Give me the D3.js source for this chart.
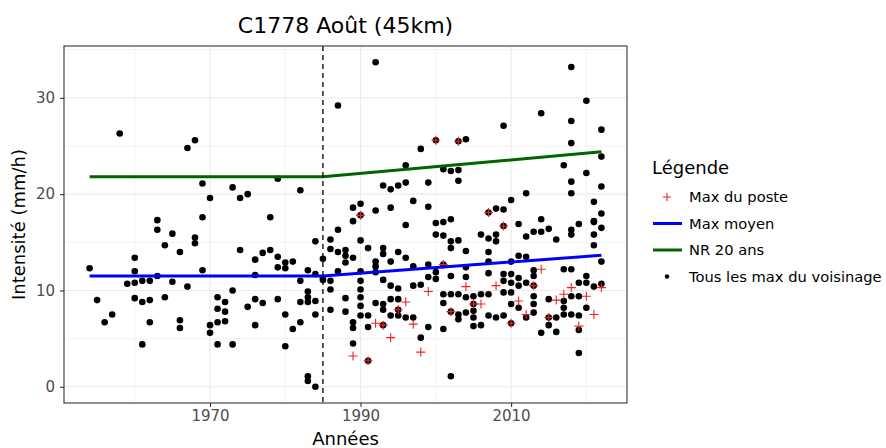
<!DOCTYPE html>
<meta charset="utf-8">
<style>
  body { margin: 0; background: #fff; }
  svg { font-family: 'DejaVu Sans', sans-serif; }
</style>
<script src="https://d3js.org/d3.v7.min.js"></script>
<body>
<svg id="chart" width="886" height="448"></svg>
<script>

// years with neighbourhood maxima, and the values for each year
var years = [1954,1955,1956,1957,1958,1959,1960,1961,1962,1963,1964,1965,1966,1967,1968,1969,
  1970,1971,1972,1973,1974,1975,1976,1977,1978,1979,1980,1981,1982,1983,1984,1985,1986,1987,1988,1989,
  1990,1991,1992,1993,1994,1995,1996,1997,1998,1999,2000,2001,2002,2003,2004,2005,2006,2007,2008,2009,
  2010,2011,2012,2013,2014,2015,2016,2017,2018,2019,2020,2021,2022];
var values = [
  [12.3],[9.0],[6.7],[7.5],[26.3],[10.7],[13.4,12.0,10.8,9.2],[11.0,8.8,4.4],[11.0,9.0,6.7],
  [17.3,16.3,11.5],[14.7,9.3],[15.9,10.9],[14.0,6.9,6.1],[24.8,10.4],[25.6,15.5,14.9],[21.1,17.6,12.1],
  [19.6,6.4,5.6],[9.3,8.1,6.7,4.4],[8.8,7.8,6.8],[20.7,10.0,4.4],[19.6,14.2],[20.0,8.3],[13.2,11.6,9.1,6.4],
  [13.9,8.7],[17.6,14.2],[21.6,13.5,12.4,9.1],[12.9,12.3,7.5,4.2],[13.0,6.0],[20.4,11.0,8.8,6.7],
  [12.1,9.9,9.3,8.8,1.1,0.6],[15.1,11.7,8.9,7.5,0.0],[13.3,11.3,11.1],[15.3,14.3,11.0,10.1,8.0],
  [29.2,16.3,14.0,12.0],[14.2,13.6,12.9,9.2,7.8],[18.6,17.2,13.4,6.7,6.1,4.5],
  [19.0,17.8,15.2,12.0,11.0,10.1,9.3,8.4,7.4],[14.4,7.4,6.2,2.7],[33.7,18.3,13.0,12.5,11.9,8.7],
  [20.9,14.4,13.8,11.1,8.6,8.0,6.4],[20.5,18.6,13.0,10.5,9.1,7.4],[20.9,14.0,10.2,9.1,8.0,7.4],
  [23.0,21.2,16.8,13.4,7.2],[19.3,12.5,10.5,7.2],[24.7,10.6,5.1],[21.2,18.7,12.7,11.4,6.2],
  [25.6,17.0,15.8,11.9,11.2],[22.6,17.1,15.7,12.7,9.6,8.7,6.0],[22.4,17.4,15.1,14.4,11.5,9.6,7.8,1.1],
  [25.5,22.5,21.4,15.2,9.6,7.5,7.0],[25.7,14.1,12.4,11.4,9.3,7.7],[9.4,8.6,7.9,7.2,6.3],[15.8,9.6,6.4],
  [18.1,15.4,14.0,13.0,11.8,9.6,7.4],[18.5,15.8,15.1,7.2],[27.1,18.4,16.7,11.7,11.0,9.8,7.4],
  [19.4,13.0,11.7,10.8,9.8,8.6,6.6],[16.9,13.6,11.3,10.5,8.2],[20.1,15.6,13.5,10.8,7.2],
  [16.1,12.1,11.5,10.5,9.4,8.6,7.7],[28.4,17.4,16.1,5.6],[16.4,9.1,7.2,6.4],[15.3,7.2,5.7],
  [23.0,12.2,8.9,8.2,7.5],[33.2,27.6,25.3,21.3,20.1,16.3,15.8,12.2,9.4,7.5],[16.9,10.8,9.4,7.4,5.9,3.5],
  [29.7,22.2,11.5,10.8,8.2],[19.2,17.2,17.1,15.8,14.7,10.4],[26.7,23.9,20.8,18.0,16.5,13.0,10.7]
];

// station maxima (red crosses)
var posteYears = [1989,1990,1991,1992,1993,1994,1995,1996,1997,1998,1999,2000,2001,2002,2003,2004,2005,
  2006,2007,2008,2009,2010,2011,2012,2013,2014,2015,2016,2017,2018,2019,2020,2021,2022];
var posteValues = [3.2,17.8,2.7,6.6,6.4,5.1,8.0,8.8,6.5,3.6,9.9,25.6,12.7,7.8,25.5,10.4,8.6,
  8.6,18.1,10.5,16.7,6.6,8.9,7.5,10.5,12.2,7.2,9.0,9.6,10.3,6.3,9.4,7.5,10.3];

// mean max and 20-year return level
var lineYears = [1954, 1985, 2022];
var maxMoyen = [11.5, 11.5, 13.65];
var nr20 = [21.8, 21.8, 24.4];
var ruptureYear = 1985;

var xMajor = [1970, 1990, 2010];
var xMinor = [1960, 1980, 2000, 2020];
var yMajor = [0, 10, 20, 30];
var yMinor = [5, 15, 25, 35];

var title = "C1778 Août (45km)";
var legendLabels = ["Max du poste", "Max moyen", "NR 20 ans", "Tous les max du voisinage"];

var svg = d3.select("#chart");
var panel = {left: 64, right: 627, top: 46, bottom: 403};

var points = [];
years.forEach(function(yr, i) {
  values[i].forEach(function(v) { points.push({year: yr, value: v}); });
});

function expand(ext, f) {
  var d = (ext[1] - ext[0]) * f;
  return [ext[0] - d, ext[1] + d];
}

var x = d3.scaleLinear()
  .domain(expand(d3.extent(years), 0.05))
  .range([panel.left, panel.right]);
var y = d3.scaleLinear()
  .domain(expand(d3.extent(points, function(d) { return d.value; }), 0.05))
  .range([panel.bottom, panel.top]);

// grid
var grid = svg.append("g");
grid.selectAll(".xminor").data(xMinor).enter().append("line")
  .attr("x1", d => x(d)).attr("x2", d => x(d))
  .attr("y1", panel.top).attr("y2", panel.bottom)
  .attr("stroke", "#ebebeb").attr("stroke-width", 0.6);
grid.selectAll(".yminor").data(yMinor).enter().append("line")
  .attr("x1", panel.left).attr("x2", panel.right)
  .attr("y1", d => y(d)).attr("y2", d => y(d))
  .attr("stroke", "#ebebeb").attr("stroke-width", 0.6);
grid.selectAll(".xmajor").data(xMajor).enter().append("line")
  .attr("x1", d => x(d)).attr("x2", d => x(d))
  .attr("y1", panel.top).attr("y2", panel.bottom)
  .attr("stroke", "#ebebeb").attr("stroke-width", 1.1);
grid.selectAll(".ymajor").data(yMajor).enter().append("line")
  .attr("x1", panel.left).attr("x2", panel.right)
  .attr("y1", d => y(d)).attr("y2", d => y(d))
  .attr("stroke", "#ebebeb").attr("stroke-width", 1.1);

// all neighbourhood maxima
svg.append("g")
  .selectAll("circle")
  .data(points)
  .enter()
  .append("circle")
    .attr("cx", d => x(d.year))
    .attr("cy", d => y(d.value))
    .attr("r", 3.3)
    .attr("fill", "black");

// station maxima
svg.append("g")
  .selectAll("path")
  .data(posteYears)
  .enter()
  .append("path")
    .attr("d", function(d, i) {
      var cx = x(d), cy = y(posteValues[i]);
      return "M" + (cx - 4.5) + "," + cy + "H" + (cx + 4.5) + "M" + cx + "," + (cy - 4.5) + "V" + (cy + 4.5);
    })
    .attr("stroke", "#ee2222")
    .attr("stroke-width", 1.1)
    .attr("fill", "none");

var line = d3.line().x(d => x(d[0])).y(d => y(d[1]));
svg.append("path")
  .attr("d", line(lineYears.map((yr, i) => [yr, maxMoyen[i]])))
  .attr("stroke", "blue").attr("stroke-width", 3).attr("fill", "none");
svg.append("path")
  .attr("d", line(lineYears.map((yr, i) => [yr, nr20[i]])))
  .attr("stroke", "#006400").attr("stroke-width", 3).attr("fill", "none");

svg.append("line")
  .attr("x1", x(ruptureYear)).attr("x2", x(ruptureYear))
  .attr("y1", panel.top).attr("y2", panel.bottom)
  .attr("stroke", "black").attr("stroke-width", 1.3)
  .attr("stroke-dasharray", "5,4");

// panel border
svg.append("rect")
  .attr("x", panel.left).attr("y", panel.top)
  .attr("width", panel.right - panel.left).attr("height", panel.bottom - panel.top)
  .attr("fill", "none").attr("stroke", "#333").attr("stroke-width", 1.1);

// axes
var xAxis = svg.append("g")
  .attr("transform", "translate(0," + panel.bottom + ")")
  .call(d3.axisBottom(x).tickValues(xMajor).tickSize(4).tickPadding(3).tickFormat(d3.format("d")));
var yAxis = svg.append("g")
  .attr("transform", "translate(" + panel.left + ",0)")
  .call(d3.axisLeft(y).tickValues(yMajor).tickSize(4).tickPadding(5));
[xAxis, yAxis].forEach(function(a) {
  a.select(".domain").remove();
  a.selectAll(".tick line").attr("stroke", "#333").attr("stroke-width", 1.1);
  a.selectAll(".tick text").attr("fill", "#4d4d4d").style("font-size", "15px").style("font-family", "DejaVu Sans");
});

svg.append("text")
  .attr("x", (panel.left + panel.right) / 2).attr("y", 33)
  .attr("text-anchor", "middle")
  .style("font-size", "22px")
  .text(title);
svg.append("text")
  .attr("x", (panel.left + panel.right) / 2).attr("y", 445)
  .attr("text-anchor", "middle")
  .style("font-size", "18px")
  .text("Années");
svg.append("text")
  .attr("transform", "translate(25," + ((panel.top + panel.bottom) / 2) + ") rotate(-90)")
  .attr("text-anchor", "middle")
  .style("font-size", "18px")
  .text("Intensité (mm/h)");

// legend
var legend = svg.append("g").attr("transform", "translate(652,0)");
legend.append("text").attr("x", 0).attr("y", 174).style("font-size", "18px").text("Légende");
var keyY = [197, 223.5, 250, 276.5];
legend.selectAll(".lab").data(legendLabels).enter().append("text")
  .attr("x", 37).attr("y", (d, i) => keyY[i] + 5)
  .style("font-size", "14.7px")
  .text(d => d);
legend.append("path")
  .attr("d", "M11," + keyY[0] + "H19M15," + (keyY[0] - 4) + "V" + (keyY[0] + 4))
  .attr("stroke", "#ee2222").attr("stroke-width", 1.1);
legend.append("line").attr("x1", 1).attr("x2", 30).attr("y1", keyY[1]).attr("y2", keyY[1])
  .attr("stroke", "blue").attr("stroke-width", 3);
legend.append("line").attr("x1", 1).attr("x2", 30).attr("y1", keyY[2]).attr("y2", keyY[2])
  .attr("stroke", "#006400").attr("stroke-width", 3);
legend.append("circle").attr("cx", 15).attr("cy", keyY[3]).attr("r", 2.2).attr("fill", "black");

</script>
</body>
